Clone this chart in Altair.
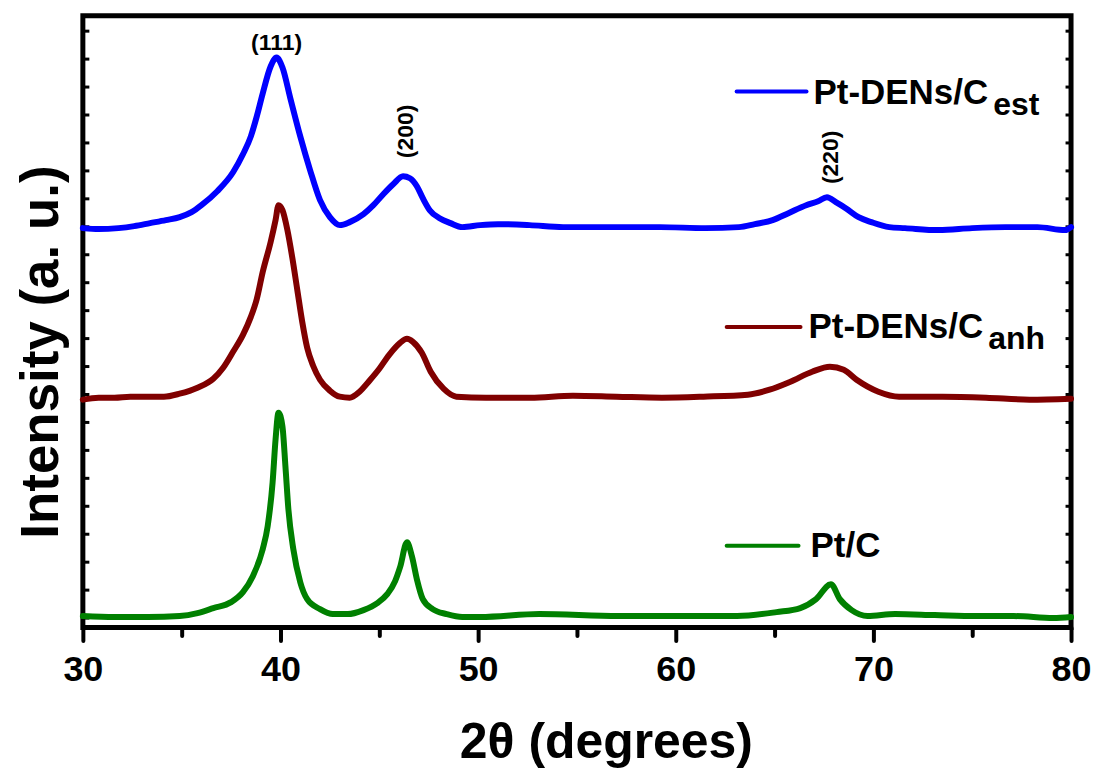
import altair as alt
import pandas as pd

# ---------------- data ----------------
series_names = ["Pt-DENs/C_est", "Pt-DENs/C_anh", "Pt/C"]

est_x = [30.0, 30.8, 31.8, 32.6, 33.4, 34.2, 34.9, 35.5, 36.0, 36.8, 37.6, 38.1, 38.5, 38.8,
         39.1, 39.5, 39.8, 40.1, 40.5, 41.0, 41.5, 42.0, 42.5, 43.0, 43.5, 44.2, 44.7, 45.2,
         45.7, 46.2, 46.55, 46.9, 47.2, 47.55, 48.05, 48.6, 49.2, 50.1, 51.0, 52.6, 54.3, 56.0,
         57.6, 59.2, 61.5, 63.2, 64.0, 64.9, 65.7, 66.6, 67.2, 67.65, 68.1, 68.6, 69.25, 69.9,
         70.8, 71.6, 73.3, 75.0, 76.7, 78.3, 79.7, 80.0]
est_y = [400, 399, 400, 402, 405, 408, 411, 416, 423, 437, 456, 474, 492, 512,
         535, 562, 571, 561, 530, 492, 458, 428, 411, 403, 406, 414, 423, 434,
         444, 452, 450, 442, 430, 418, 410, 405, 401, 403, 404, 403, 401, 401,
         401, 401, 400, 401, 404, 408, 415, 423, 427, 431, 426, 420, 411, 406,
         401, 400, 398, 400, 401, 401, 398, 401]

anh_x = [30.0, 30.8, 31.6, 32.4, 33.3, 34.1, 34.9, 35.8, 36.6, 37.1, 37.6, 38.1, 38.5, 38.8,
         39.1, 39.5, 39.75, 39.9, 40.1, 40.35, 40.6, 40.85, 41.1, 41.35, 41.65, 42.0, 42.5,
         43.0, 43.5, 44.0, 44.5, 45.0, 45.5, 46.05, 46.4, 46.7, 47.15, 47.6, 48.25, 48.9,
         50.4, 52.65, 54.8, 57.0, 59.3, 61.4, 63.65, 64.75, 65.8, 66.9, 67.8, 68.5, 69.15,
         70.25, 71.3, 73.5, 75.7, 77.9, 80.0]
anh_y = [228, 230, 230, 231, 231, 231, 234, 240, 249, 260, 276, 293, 311, 329,
         356, 386, 408, 423, 418, 398, 370, 338, 306, 280, 262, 248, 237,
         231, 230, 236, 247, 259, 273, 285, 289, 286, 275, 256, 239, 231,
         230, 230, 232, 231, 230, 231, 233, 238, 246, 256, 261, 258, 248,
         236, 231, 231, 230, 228, 229]

pt_x = [30.0, 31.6, 33.3, 34.9, 35.8, 36.6, 37.5, 38.1, 38.6, 39.1, 39.35, 39.6, 39.75, 39.9,
        40.1, 40.25, 40.4, 40.65, 41.0, 41.35, 42.0, 42.65, 43.4, 44.2, 44.9, 45.4, 45.8,
        46.05, 46.4, 46.65, 46.9, 47.2, 47.7, 48.4, 49.2, 50.1, 53.1, 57.1, 61.1, 63.1, 65.1,
        66.3, 67.1, 67.85, 68.3, 68.9, 69.7, 71.1, 73.1, 75.2, 77.1, 79.1, 80.0]
pt_y = [11, 10, 10, 11, 14, 19, 25, 35, 51, 78, 101, 145, 188, 215,
        201, 161, 118, 78, 45, 28, 18, 13, 13, 17, 24, 33, 46,
        60, 85, 71, 48, 28, 18, 13, 10, 10, 13, 11, 11, 11, 15,
        19, 28, 43, 28, 17, 11, 13, 12, 11, 11, 9, 10]

peak_labels = ["(111)", "(200)", "(220)"]
peak_pos = [39.8, 46.35, 67.85]
peak_label_y = [586, 497, 471]
peak_angles = [0, 270, 270]

legend_main = ["Pt-DENs/C", "Pt-DENs/C", "Pt/C"]
legend_sub = ["est", "anh", ""]

x_ticks = list(range(30, 81, 5))
y_ticks = list(range(10, 600, 28))

# ---------------- styling ----------------
FONT = "Liberation Sans"
W, H = 990, 613
colors = ["#0000ff", "#800000", "#008000"]
widths = [6, 6, 4.5]

rows = []
for name, xs, ys in zip(series_names, [est_x, anh_x, pt_x], [est_y, anh_y, pt_y]):
    for a, b in zip(xs, ys):
        rows.append({"x": a, "y": b, "series": name})
df = pd.DataFrame(rows)

xscale = alt.Scale(domain=[30, 80], nice=False, zero=False)
yscale = alt.Scale(domain=[-0.5, 613], nice=False, zero=False)

x_axis = alt.Axis(
    values=x_ticks,
    labelExpr="datum.value % 10 === 0 ? datum.label : ''",
    tickSize={"condition": {"test": "datum.value % 10 === 0", "value": 13}, "value": 8},
    tickWidth=4, tickColor="black", tickCap="round",
    domain=False, grid=False,
    labelFont=FONT, labelFontWeight="bold", labelFontSize=36, labelColor="black",
    labelPadding=12, labelFlush=False, labelOverlap=False,
    title="2θ (degrees)", titleFont=FONT, titleFontSize=50, titleFontWeight="bold",
    titleColor="black", titleX=524, titleY=130, titleBaseline="alphabetic", titleAlign="center",
)

lines = alt.Chart(df).mark_line(interpolate="monotone", strokeJoin="round", strokeCap="round").encode(
    x=alt.X("x:Q", scale=xscale, axis=x_axis),
    y=alt.Y("y:Q", scale=yscale, axis=alt.Axis(
        orient="right", offset=-W, values=y_ticks, labels=False, domain=False, title=None,
        grid=False, tickSize=6, tickWidth=3, tickColor="black")),
    color=alt.Color("series:N", scale=alt.Scale(domain=series_names, range=colors), legend=None),
    strokeWidth=alt.StrokeWidth("series:N", scale=alt.Scale(domain=series_names, range=widths), legend=None),
    order=alt.Order("x:Q"),
)

peak_df = pd.DataFrame({"x": peak_pos, "y": peak_label_y, "label": peak_labels, "angle": peak_angles})
peaks = alt.Chart(peak_df).mark_text(font=FONT, fontWeight="bold", fontSize=23, color="black",
                                     align="center", baseline="middle").encode(
    x=alt.X("x:Q", scale=xscale),
    y=alt.Y("y:Q", scale=yscale, axis=alt.Axis(
        orient="left", offset=-W, values=y_ticks, labels=False, domain=False, title=None,
        grid=False, tickSize=6, tickWidth=3, tickColor="black")),
    text="label:N",
    angle=alt.Angle("angle:Q", scale=None),
)

one = pd.DataFrame({"k": [0]})
layers = [lines, peaks]

# y title
layers.append(alt.Chart(one).mark_text(text="Intensity (a. u.)", font=FONT, fontWeight="bold", fontSize=53,
                                       color="black", angle=270, align="center", baseline="alphabetic")
              .encode(x=alt.value(-25), y=alt.value(337)))

# legend (lines + labels with subscripts)
leg_line = [(655, 725, 76), (645, 719, 312), (645, 717, 531)]
leg_text = [(907, 88), (902, 323), (729, 542)]
for i in range(3):
    x1, x2, yy = leg_line[i]
    layers.append(alt.Chart(one).mark_rule(color=colors[i], strokeWidth=4, strokeCap="round")
                  .encode(x=alt.value(x1), x2=alt.value(x2), y=alt.value(yy)))
    tx, ty = leg_text[i]
    if legend_sub[i]:
        layers.append(alt.Chart(one).mark_text(text=legend_main[i], font=FONT, fontWeight="bold", fontSize=35,
                                               color="black", align="right", baseline="alphabetic")
                      .encode(x=alt.value(tx), y=alt.value(ty)))
        layers.append(alt.Chart(one).mark_text(text=legend_sub[i], font=FONT, fontWeight="bold", fontSize=32,
                                               color="black", align="left", baseline="alphabetic")
                      .encode(x=alt.value(tx + 5), y=alt.value(ty + 11)))
    else:
        layers.append(alt.Chart(one).mark_text(text=legend_main[i], font=FONT, fontWeight="bold", fontSize=35,
                                               color="black", align="left", baseline="alphabetic")
                      .encode(x=alt.value(tx), y=alt.value(ty)))

chart = alt.layer(*layers).resolve_axis(y="independent").properties(
    width=W, height=H,
    autosize=alt.AutoSizeParams(type="none"),
    padding={"left": 75, "top": 7, "right": 20, "bottom": 140},
    background="white",
).configure_view(stroke="black", strokeWidth=5)

chart.save("out.html", embed_options={"renderer": "svg", "actions": False})
